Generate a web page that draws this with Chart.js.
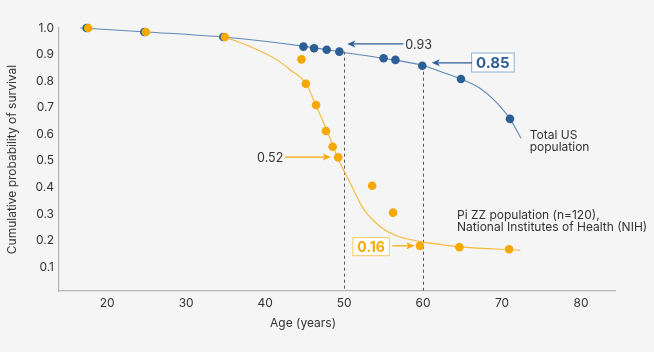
<!DOCTYPE html>
<html>
<head>
<meta charset="utf-8">
<script src="https://cdn.jsdelivr.net/npm/chart.js@4.4.1/dist/chart.umd.min.js"></script>
<style>
  html, body { margin: 0; padding: 0; background: #f5f5f5; }
  #wrap { width: 654px; height: 352px; }
</style>
</head>
<body>
<div id="wrap"><canvas id="survivalChart"></canvas></div>
<script>
// measured points
const usAges = [17.4, 24.7, 34.7, 44.85, 46.2, 47.8, 49.4, 55.0, 56.5, 59.9, 64.8, 71.0];
const usSurvival = [1.0, 0.985, 0.966, 0.930, 0.924, 0.918, 0.911, 0.886, 0.880, 0.858, 0.808, 0.658];
const zzAges = [17.6, 24.9, 34.9, 44.6, 45.15, 46.45, 47.7, 48.55, 49.25, 53.55, 56.2, 59.6, 64.6, 70.9];
const zzSurvival = [1.0, 0.985, 0.966, 0.882, 0.790, 0.710, 0.612, 0.553, 0.513, 0.406, 0.305, 0.180, 0.175, 0.167];

// fitted curves
const usFitAges = [16.6, 25, 35, 45, 50, 55, 60, 62.2, 64.8, 67.2, 68.9, 71, 72.4];
const usFitSurvival = [1.0, 0.985, 0.965, 0.931, 0.908, 0.886, 0.859, 0.836, 0.808, 0.773, 0.731, 0.658, 0.585];
const zzFitAges = [34.8, 38.5, 41.5, 43.2, 45.2, 46.5, 47.8, 49.2, 50.8, 52.4, 54.6, 56.7, 58.7, 60.5, 64.7, 72.3];
const zzFitSurvival = [0.967, 0.925, 0.880, 0.842, 0.789, 0.704, 0.616, 0.511, 0.415, 0.321, 0.252, 0.217, 0.202, 0.192, 0.176, 0.164];

const xTicks = [20, 30, 40, 50, 60, 70, 80];
const yTicks = [0.1, 0.2, 0.3, 0.4, 0.5, 0.6, 0.7, 0.8, 0.9, 1.0];

const BLUE = "#2d5f97";
const BLUE_LINE = "#5f89b9";
const ORANGE = "#f5a800";
const ORANGE_LINE = "#f6b938";
const FONT = "Inter, 'Noto Sans', sans-serif";

function pts(xs, ys) {
  return xs.map((x, i) => ({ x: x, y: ys[i] }));
}

function arrow(ctx, x1, y1, x2, y2, color) {
  ctx.save();
  ctx.strokeStyle = color;
  ctx.fillStyle = color;
  ctx.lineWidth = 1.2;
  const dir = x2 > x1 ? 1 : -1;
  ctx.beginPath();
  ctx.moveTo(x1, y1);
  ctx.lineTo(x2 - dir * 6, y2);
  ctx.stroke();
  ctx.beginPath();
  ctx.moveTo(x2, y2);
  ctx.lineTo(x2 - dir * 8, y2 - 3.5);
  ctx.lineTo(x2 - dir * 6, y2);
  ctx.lineTo(x2 - dir * 8, y2 + 3.5);
  ctx.closePath();
  ctx.fill();
  ctx.restore();
}

function boxedLabel(ctx, text, xRight, yMid, color, border, size) {
  ctx.save();
  ctx.font = "bold " + size + "px " + FONT;
  const w = ctx.measureText(text).width + 10;
  const h = size + 5;
  ctx.fillStyle = "#ffffff";
  ctx.fillRect(xRight - w, yMid - h / 2, w, h);
  ctx.strokeStyle = border;
  ctx.lineWidth = 1.2;
  ctx.strokeRect(xRight - w + 0.5, yMid - h / 2 + 0.5, w - 1, h - 1);
  ctx.fillStyle = color;
  ctx.textAlign = "center";
  ctx.textBaseline = "middle";
  ctx.fillText(text, xRight - w / 2, yMid + 1);
  ctx.restore();
}

const annotations = {
  id: "annotations",
  beforeDatasetsDraw(chart) {
    const ctx = chart.ctx;
    const xs = chart.scales.x, ys = chart.scales.y;
    ctx.save();
    ctx.strokeStyle = "#555";
    ctx.lineWidth = 1;
    ctx.setLineDash([3, 3]);
    [[50, 0.911], [60, 0.858]].forEach(([a, s]) => {
      const px = Math.round(xs.getPixelForValue(a)) + 0.5;
      ctx.beginPath();
      ctx.moveTo(px, ys.getPixelForValue(s));
      ctx.lineTo(px, chart.chartArea.bottom);
      ctx.stroke();
    });
    ctx.restore();
  },
  afterDatasetsDraw(chart) {
    const ctx = chart.ctx;
    const xs = chart.scales.x, ys = chart.scales.y;
    const X = v => xs.getPixelForValue(v);
    const Y = v => ys.getPixelForValue(v);

    // 0.93
    arrow(ctx, X(57.5), Y(0.94), X(50.4), Y(0.94), BLUE);
    ctx.save();
    ctx.font = "12.5px " + FONT;
    ctx.fillStyle = "#333";
    ctx.textBaseline = "middle";
    ctx.fillText("0.93", X(57.75), Y(0.94) + 1);
    ctx.restore();

    // 0.85
    boxedLabel(ctx, "0.85", X(71.6), Y(0.87), BLUE, "#9db8da", 15);
    arrow(ctx, X(66.2), Y(0.869), X(61.1), Y(0.869), BLUE);

    // 0.52
    ctx.save();
    ctx.font = "12.5px " + FONT;
    ctx.fillStyle = "#333";
    ctx.textAlign = "right";
    ctx.textBaseline = "middle";
    ctx.fillText("0.52", X(42.3), Y(0.514) + 1);
    ctx.restore();
    arrow(ctx, X(42.5), Y(0.514), X(48.3), Y(0.514), ORANGE);

    // 0.16
    boxedLabel(ctx, "0.16", X(55.8), Y(0.177), ORANGE, "#f8d07c", 14);
    arrow(ctx, X(56.1), Y(0.18), X(58.9), Y(0.18), ORANGE);

    // series labels
    ctx.save();
    ctx.font = "12px " + FONT;
    ctx.fillStyle = "#333";
    ctx.textBaseline = "middle";
    ctx.fillText("Total US", X(73.5), Y(0.595));
    ctx.fillText("population", X(73.5), Y(0.550));
    ctx.fillText("Pi ZZ population (n=120),", X(64.3), Y(0.296));
    ctx.fillText("National Institutes of Health (NIH)", X(64.3), Y(0.251));
    // x axis title
    ctx.textAlign = "center";
    ctx.fillText("Age (years)", X(44.8), 323);
    ctx.restore();
  }
};

const ctx = document.getElementById("survivalChart").getContext("2d");
new Chart(ctx, {
  type: "scatter",
  data: {
    datasets: [
      {
        label: "Pi ZZ points",
        data: pts(zzAges, zzSurvival),
        backgroundColor: ORANGE,
        borderWidth: 0,
        pointRadius: 4.3,
        clip: false,
        order: 1,
      },
      {
        label: "US points",
        data: pts(usAges, usSurvival),
        backgroundColor: BLUE,
        borderWidth: 0,
        pointRadius: 4.3,
        clip: false,
        order: 2,
      },
      {
        label: "Pi ZZ fit",
        data: pts(zzFitAges, zzFitSurvival),
        showLine: true,
        borderColor: ORANGE_LINE,
        borderWidth: 1.1,
        pointRadius: 0,
        cubicInterpolationMode: "monotone",
        clip: false,
        order: 3,
      },
      {
        label: "US fit",
        data: pts(usFitAges, usFitSurvival),
        showLine: true,
        borderColor: BLUE_LINE,
        borderWidth: 1.1,
        pointRadius: 0,
        cubicInterpolationMode: "monotone",
        clip: false,
        order: 4,
      },
    ],
  },
  options: {
    responsive: true,
    maintainAspectRatio: false,
    animation: false,
    layout: { padding: { top: 28, right: 39, left: 0, bottom: 0 } },
    plugins: {
      legend: { display: false },
      tooltip: { enabled: false },
    },
    scales: {
      x: {
        type: "linear",
        min: 13.9,
        max: 84.3,
        grid: { display: false, drawTicks: false },
        border: { display: true, color: "#b3b3b3", width: 1.2 },
        afterBuildTicks: (scale) => { scale.ticks = xTicks.map(v => ({ value: v })); },
        afterFit: (scale) => { scale.height = 61; },
        ticks: { color: "#333", padding: 5, font: { family: FONT, size: 12 } },
      },
      y: {
        min: 0.01,
        max: 1.0,
        grid: { display: false, drawTicks: false },
        border: { display: true, color: "#b3b3b3", width: 1.2 },
        afterBuildTicks: (scale) => { scale.ticks = yTicks.map(v => ({ value: v })); },
        afterFit: (scale) => { scale.width = 59; },
        ticks: {
          color: "#333",
          padding: 5,
          font: { family: FONT, size: 12 },
          callback: (v) => v.toFixed(1),
        },
        title: {
          display: true,
          text: "Cumulative probability of survival",
          color: "#333",
          font: { family: FONT, size: 12 },
          padding: { top: 5, bottom: 0 },
        },
      },
    },
  },
  plugins: [annotations],
});
</script>
</body>
</html>
